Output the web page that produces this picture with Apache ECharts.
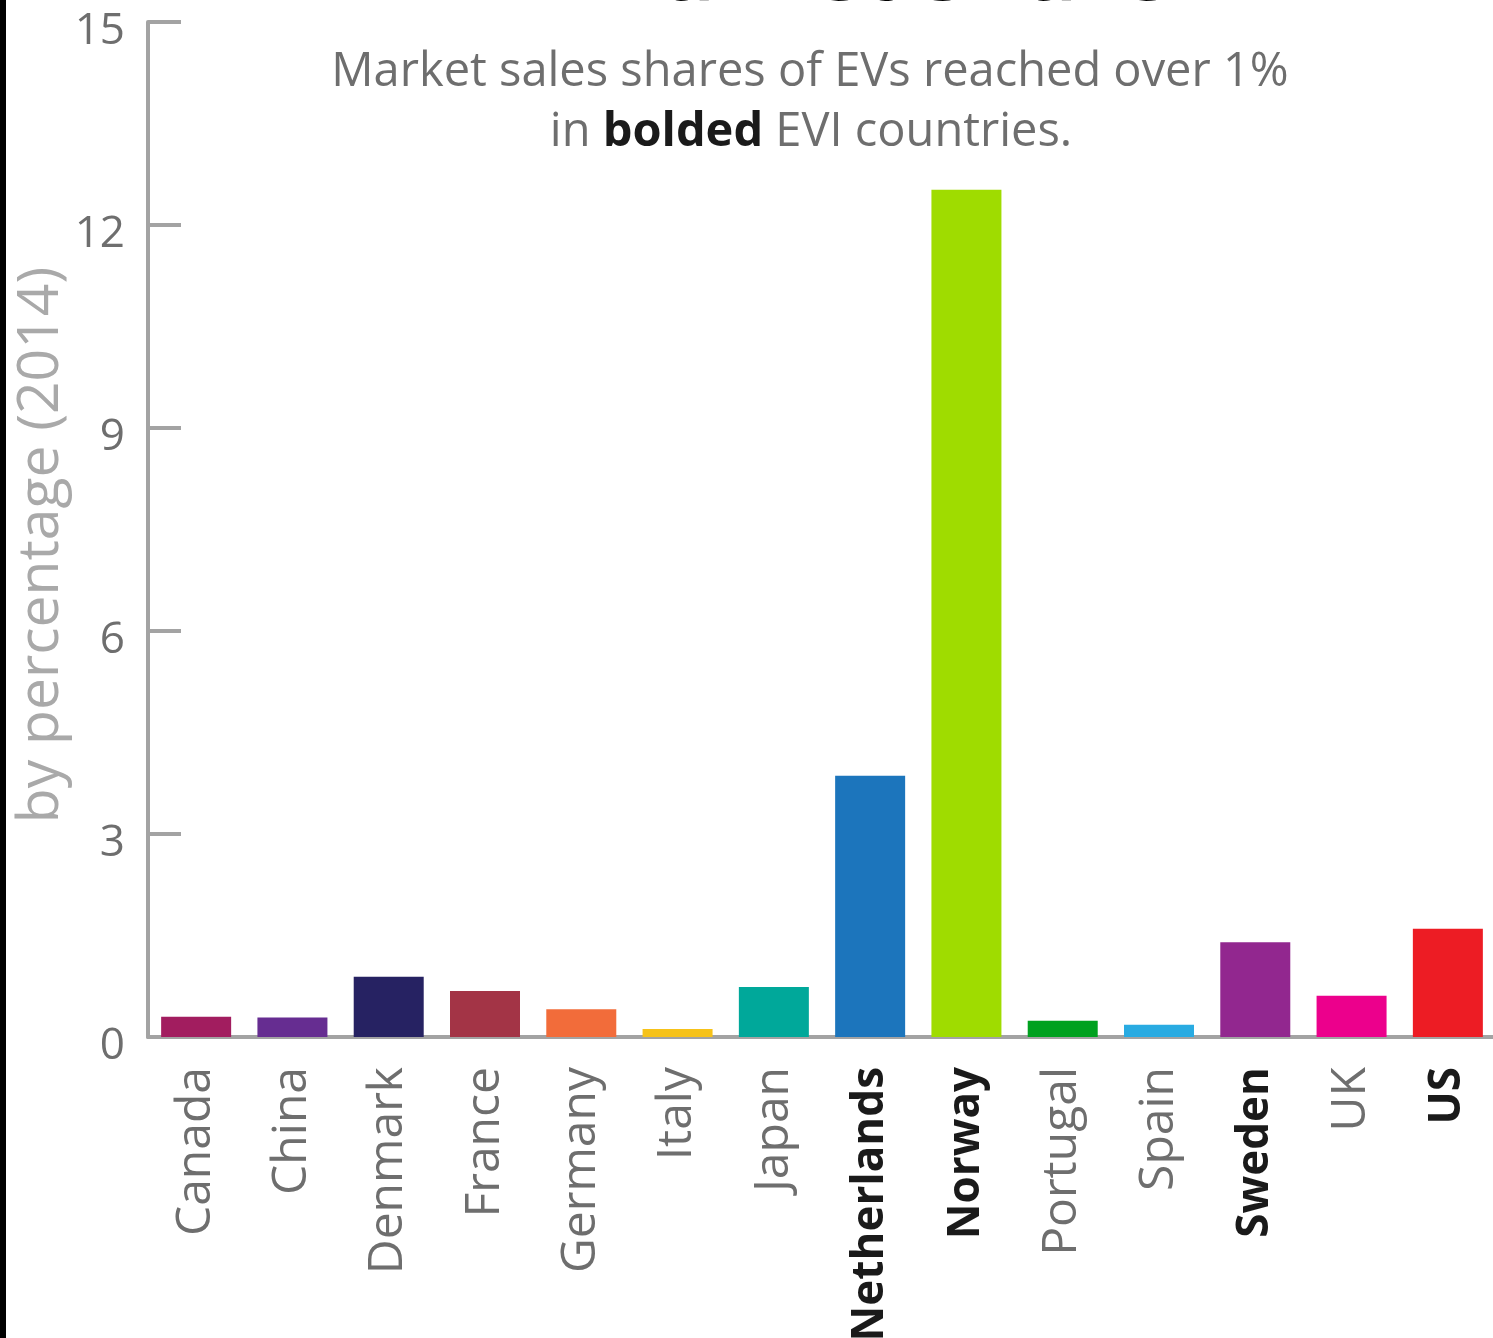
<!DOCTYPE html>
<html>
<head>
<meta charset="utf-8" />
<script src="https://cdn.jsdelivr.net/npm/echarts@6/dist/echarts.min.js"></script>
<style>
  html,
  body {
    margin: 0;
    padding: 0;
    background: #fff;
  }
  #main {
    width: 1493px;
    height: 1338px;
  }
</style>
</head>
<body>
<div id="main"></div>
<script>
// countries on the x axis
const countries = ["Canada", "China", "Denmark", "France", "Germany", "Italy", "Japan",
  "Netherlands", "Norway", "Portugal", "Spain", "Sweden", "UK", "US"];
// EV market share, % (2014)
const shares = [0.30, 0.29, 0.89, 0.68, 0.41, 0.12, 0.74, 3.86, 12.52, 0.24, 0.18, 1.40, 0.61, 1.60];
// one colour per country
const barColors = ["#a21d5f", "#662d91", "#262262", "#a33446", "#f26c3a", "#f6c219", "#00a89a",
  "#1c75bc", "#9fdc00", "#00a11f", "#29abe2", "#92278f", "#ec008c", "#ed1c24"];
// countries over 1%, shown bold
const boldCountries = ["Netherlands", "Norway", "Sweden", "US"];

const gray = "#6e6e6e";
const axisGray = "#a3a3a3";
const font = "Open Sans";

let myChart = echarts.init(document.getElementById("main"));

let option = {
  backgroundColor: "#fff",
  textStyle: { fontFamily: font },
  animation: false,
  grid: {
    left: 148,
    top: 22,
    width: 1348,
    height: 1015,
    outerBoundsMode: "none", // labels may run off the bottom, like the original
  },
  xAxis: {
    type: "category",
    data: countries,
    axisLine: { lineStyle: { color: axisGray, width: 4 } },
    axisTick: {
      inside: true,
      length: 25,
      lineStyle: { color: axisGray, width: 4 },
    },
    axisLabel: {
      rotate: 90,
      margin: 30,
      interval: 0,
      fontSize: 48,
      color: gray,
      fontFamily: font,
      formatter: function (v) {
        return boldCountries.indexOf(v) >= 0 ? "{b|" + v + "}" : v;
      },
      rich: {
        b: { fontSize: 44, fontWeight: "bold", color: "#1a1a1a", fontFamily: font },
      },
    },
  },
  yAxis: {
    type: "value",
    min: 0,
    max: 15,
    interval: 3,
    splitLine: { show: false },
    axisLine: { show: true, lineStyle: { color: axisGray, width: 4 } },
    axisTick: {
      show: true,
      inside: true,
      length: 33,
      lineStyle: { color: axisGray, width: 4 },
    },
    axisLabel: {
      margin: 23,
      fontSize: 44,
      color: gray,
      fontFamily: font,
      // numbers sit a little below their tick
      verticalAlign: "top",
      lineHeight: 18,
    },
  },
  series: [
    {
      type: "bar",
      barWidth: 70,
      data: shares.map((v, i) => ({ value: v, itemStyle: { color: barColors[i] } })),
    },
  ],
  graphic: [
    // black strip on the left edge
    { type: "rect", left: 0, top: 0, shape: { width: 6, height: 1338 }, style: { fill: "#000" } },
    // title, cut off at the top
    {
      type: "text",
      x: 808,
      y: 19,
      style: {
        text: "EV market share",
        fontSize: 88,
        fontWeight: "bold",
        fontFamily: font,
        fill: "#000",
        align: "center",
        verticalAlign: "bottom",
      },
    },
    // subtitle
    {
      type: "text",
      x: 810,
      y: 73,
      style: {
        text: "Market sales shares of EVs reached over 1%",
        fontSize: 47,
        fontFamily: font,
        fill: gray,
        align: "center",
        verticalAlign: "middle",
      },
    },
    {
      type: "text",
      x: 811,
      y: 133,
      style: {
        text: "in {b|bolded} EVI countries.",
        fontSize: 47,
        fontFamily: font,
        fill: gray,
        align: "center",
        verticalAlign: "middle",
        rich: {
          b: { fontSize: 47, fontWeight: "bold", fill: "#1a1a1a", fontFamily: font },
        },
      },
    },
    // y axis name
    {
      type: "text",
      x: 42,
      y: 545,
      rotation: Math.PI / 2,
      style: {
        text: "by percentage (2014)",
        fontSize: 57,
        fontFamily: font,
        fill: "#a9a9a9",
        align: "center",
        verticalAlign: "middle",
      },
    },
  ],
};

myChart.setOption(option);
</script>
</body>
</html>
